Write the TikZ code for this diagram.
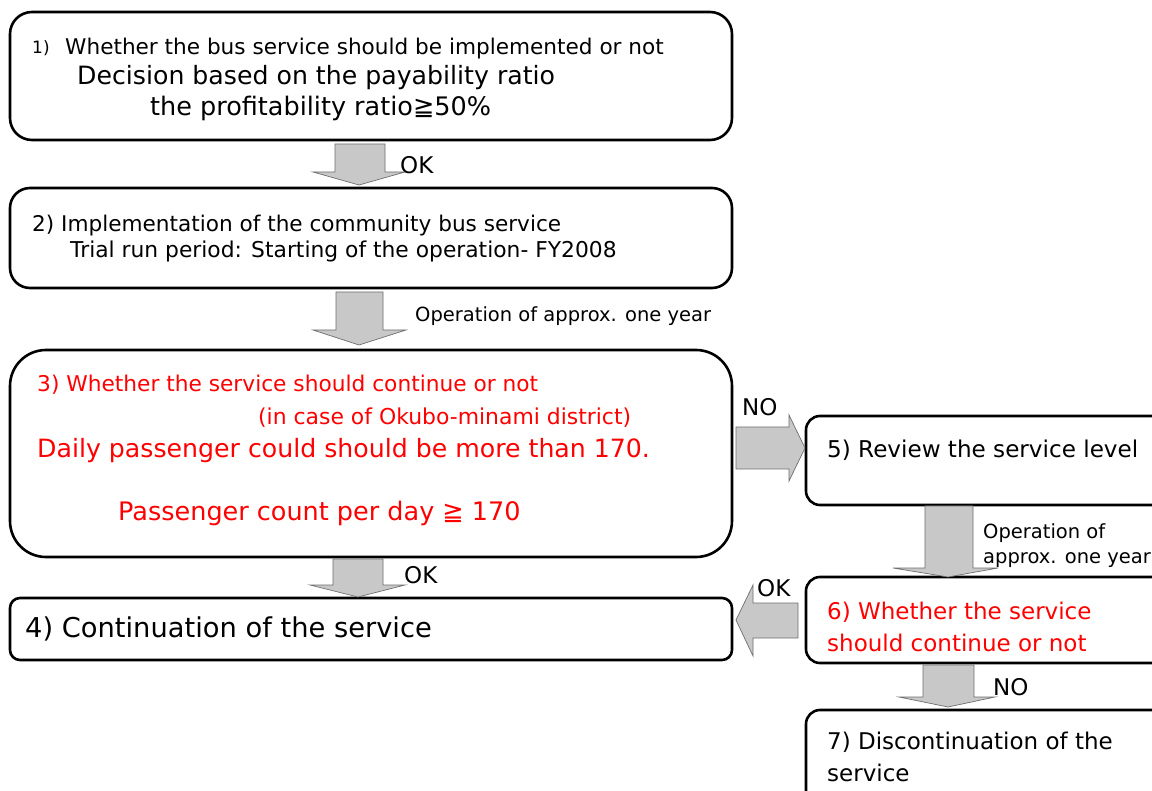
\documentclass[tikz,border=0pt]{standalone}
\usepackage{fontspec}
\setmainfont{DejaVu Sans}
\definecolor{arrowfill}{RGB}{200,200,200}
\definecolor{arrowline}{RGB}{110,110,110}
\definecolor{redtext}{RGB}{255,0,0}
\tikzset{
  box/.style={draw=black, line width=2.6pt, fill=white, rectangle, inner sep=0pt},
  barrow/.style={draw=arrowline, line width=0.7pt, fill=arrowfill},
  txt/.style={anchor=base west, inner sep=0pt},
  lbl/.style={anchor=base west, inner sep=0pt, font=\fontsize{19.5}{22}\selectfont},
  oklbl/.style={anchor=base west, inner sep=0pt, font=\fontsize{23}{26}\selectfont},
}
\begin{document}
\begin{tikzpicture}[x=1pt,y=-1pt]
\useasboundingbox (0,0) rectangle (1152,791);
\fill[white] (0,0) rectangle (1152,791);
% boxes
\node[box, rounded corners=22pt, minimum width=722pt, minimum height=128pt] (b1) at (371,76) {};
\node[box, rounded corners=20pt, minimum width=722pt, minimum height=100pt] (b2) at (371,238) {};
\node[box, rounded corners=36pt, minimum width=722pt, minimum height=207pt] (b3) at (371,453.5) {};
\node[box, rounded corners=10pt, minimum width=722pt, minimum height=62pt] (b4) at (371,629) {};
\node[box, rounded corners=14pt, minimum width=369pt, minimum height=89pt] (b5) at (990.5,460.5) {};
\node[box, rounded corners=14pt, minimum width=369pt, minimum height=86pt] (b6) at (990.5,620) {};
\node[box, rounded corners=14pt, minimum width=369pt, minimum height=95pt] (b7) at (990.5,757.5) {};
% block arrows
\draw[barrow] (335,144)--(385,144)--(385,172)--(405,172)--(359,185)--(313,172)--(335,172)--cycle;
\draw[barrow] (336,292)--(383,292)--(383,330)--(406,330)--(359,345)--(313,330)--(336,330)--cycle;
\draw[barrow] (333,559)--(383,559)--(383,585)--(405,585)--(358,597)--(310,585)--(333,585)--cycle;
\draw[barrow] (736,427)--(789,427)--(789,415)--(805,448)--(789,481)--(789,469)--(736,469)--cycle;
\draw[barrow] (925,506)--(973,506)--(973,568)--(998,568)--(948,577)--(893,568)--(925,568)--cycle;
\draw[barrow] (798,603)--(753,603)--(753,585)--(736,620)--(753,656)--(753,638)--(798,638)--cycle;
\draw[barrow] (923,665)--(974,665)--(974,697)--(995,697)--(948,707)--(899,697)--(923,697)--cycle;
% box 1 text
\node[txt, font=\fontsize{17}{19}\selectfont] (t1a) at (32,54) {1)};
\node[txt, font=\fontsize{21.6}{24}\selectfont] (t1b) at (65,55) {Whether the bus service should be implemented or not};
\node[txt, font=\fontsize{25.2}{28}\selectfont] (t1c) at (77,85) {Decision based on the payability ratio};
\node[txt, font=\fontsize{25.5}{28}\selectfont] (t1d) at (150,116) {the profitability ratio≧50\%};
% box 2 text
\node[txt, font=\fontsize{21.6}{24}\selectfont] (t2a) at (32,232) {2) Implementation of the community bus service};
\node[txt, font=\fontsize{21.8}{24}\selectfont] (t2b) at (70,258) {Trial run period: Starting of the operation- FY2008};
% box 3 text
\node[txt, text=redtext, font=\fontsize{21.7}{24}\selectfont] (t3a) at (37,392) {3) Whether the service should continue or not};
\node[txt, text=redtext, font=\fontsize{21.9}{24}\selectfont] (t3b) at (258,425) {(in case of Okubo-minami district)};
\node[txt, text=redtext, font=\fontsize{25.2}{28}\selectfont] (t3c) at (37,458) {Daily passenger could should be more than 170.};
\node[txt, text=redtext, font=\fontsize{25.5}{28}\selectfont] (t3d) at (118,521) {Passenger count per day ≧ 170};
% box 4
\node[txt, font=\fontsize{27.3}{30}\selectfont] (t4) at (25,637) {4) Continuation of the service};
% box 5
\node[txt, font=\fontsize{23.1}{26}\selectfont] (t5) at (827,458) {5) Review the service level};
% box 6
\node[txt, text=redtext, font=\fontsize{23}{26}\selectfont] (t6a) at (827,619) {6) Whether the service};
\node[txt, text=redtext, font=\fontsize{23}{26}\selectfont] (t6b) at (827,651) {should continue or not};
% box 7
\node[txt, font=\fontsize{23}{26}\selectfont] (t7a) at (827,749) {7) Discontinuation of the};
\node[txt, font=\fontsize{23}{26}\selectfont] (t7b) at (827,781) {service};
% labels
\node[oklbl] (l1) at (400,174) {OK};
\node[lbl] (l2) at (415,322) {Operation of approx. one year};
\node[oklbl] (l3) at (404,583) {OK};
\node[oklbl] (l4) at (742,416) {NO};
\node[lbl] (l5a) at (983,539) {Operation of};
\node[lbl] (l5b) at (983,563) {approx. one year};
\node[oklbl] (l6) at (757,596) {OK};
\node[oklbl] (l7) at (993,695) {NO};
\end{tikzpicture}
\end{document}
